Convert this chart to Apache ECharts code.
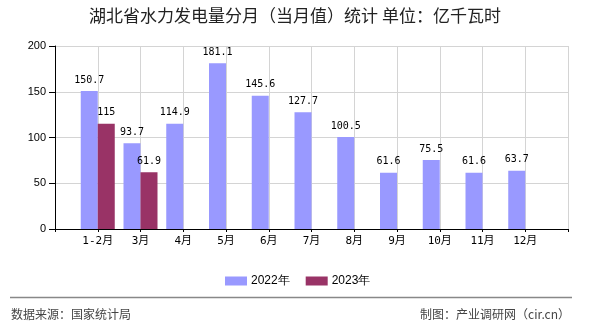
<!DOCTYPE html>
<html>
<head>
<meta charset="utf-8">
<script src="https://cdn.jsdelivr.net/npm/echarts@6/dist/echarts.min.js"></script>
<style>html,body{margin:0;padding:0;background:#fff}#c{width:590px;height:330px}</style>
</head>
<body>
<div id="c"></div>
<script>
const months = ['1-2月','3月','4月','5月','6月','7月','8月','9月','10月','11月','12月'];
const values2022 = [150.7, 93.7, 114.9, 181.1, 145.6, 127.7, 100.5, 61.6, 75.5, 61.6, 63.7];
const values2023 = [115, 61.9, null, null, null, null, null, null, null, null, null];
const seriesNames = ['2022年', '2023年'];
const yTicks = [0, 50, 100, 150, 200];

const cats = [''].concat(months, ['']);
const pad = arr => [null].concat(arr, [null]);

const chart = echarts.init(document.getElementById('c'), null, {renderer: 'canvas'});
const labelStyle = {
  show: true, position: 'top', distance: 6,
  fontFamily: 'DejaVu Sans Mono', fontSize: 10, color: '#000'
};
chart.setOption({
  animation: false,
  backgroundColor: '#fff',
  title: {
    text: '湖北省水力发电量分月（当月值）统计 单位：亿千瓦时',
    left: 'center', top: 7, padding: 0,
    textStyle: {fontFamily: 'Noto Sans CJK SC', fontSize: 17, fontWeight: 'normal', color: '#222'}
  },
  legend: {
    data: seriesNames,
    left: 220, top: 270, itemWidth: 22, itemHeight: 9, itemGap: 16,
    icon: 'rect',
    textStyle: {fontFamily: 'Liberation Sans', fontSize: 12, color: '#000', padding: [0,0,0,-1]}
  },
  grid: {left: 55, right: 22, top: 46, bottom: 101, containLabel: false},
  xAxis: {
    type: 'category', data: cats, boundaryGap: false,
    axisLine: {lineStyle: {color: '#000', width: 1}},
    axisTick: {show: true, length: 3, lineStyle: {color: '#000'}},
    axisLabel: {margin: 7, fontFamily: 'DejaVu Sans Mono, Noto Sans CJK SC', fontSize: 11, color: '#000', interval: 0},
    splitLine: {show: true, lineStyle: {color: '#d4d4d4', width: 1}}
  },
  yAxis: {
    type: 'value', min: yTicks[0], max: yTicks[yTicks.length-1], interval: 50,
    axisLine: {show: true, lineStyle: {color: '#000', width: 1}},
    axisTick: {show: true, length: 6, lineStyle: {color: '#000'}},
    axisLabel: {margin: 9, fontFamily: 'Liberation Sans', fontSize: 11, color: '#000'},
    splitLine: {show: true, lineStyle: {color: '#d4d4d4', width: 1}}
  },
  series: [
    {name: seriesNames[0], type: 'bar', data: pad(values2022), barWidth: 17, barGap: '0%',
     itemStyle: {color: '#9999ff'}, label: labelStyle},
    {name: seriesNames[1], type: 'bar', data: pad(values2023), barWidth: 17, barGap: '0%',
     itemStyle: {color: '#993366'}, label: labelStyle}
  ],
  graphic: [
    {type: 'line', shape: {x1: 10, y1: 297.5, x2: 572, y2: 297.5}, style: {stroke: '#888', lineWidth: 1.5}},
    {type: 'text', left: 11, top: 308, style: {text: '数据来源：国家统计局', font: '12px "Noto Sans CJK SC"', fill: '#444'}},
    {type: 'text', right: 20, top: 308, style: {text: '制图：产业调研网（cir.cn）', font: '12px "Noto Sans CJK SC"', fill: '#444'}}
  ]
});
</script>
</body>
</html>
